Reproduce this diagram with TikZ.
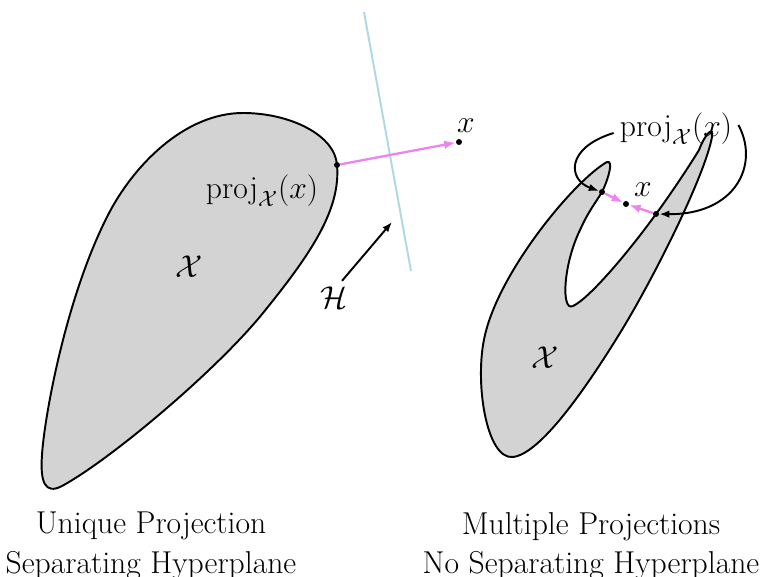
\documentclass[tikz,border=0pt]{standalone}
\usepackage{fix-cm}
\definecolor{ProjPink}{HTML}{EE82EE}
\definecolor{PlaneBlue}{HTML}{ADD8E6}
\definecolor{SetGray}{HTML}{D3D3D3}
\usetikzlibrary{arrows.meta}
\tikzset{
  region/.style={draw=black, line width=1.1pt, fill=SetGray},
  dot/.style={circle, fill=black, inner sep=0pt, minimum size=0.12cm},
  projarrow/.style={-{Latex[length=2.3mm]}, line width=1.3pt, draw=ProjPink},
  pointer/.style={-{Latex[length=2mm]}, line width=1.1pt, draw=black},
  hyperplane/.style={line width=1.1pt, draw=PlaneBlue},
  mathlabel/.style={inner sep=0pt, font=\fontsize{18}{24}\selectfont},
  caption/.style={inner sep=0pt, align=center, anchor=north, font=\fontsize{18}{22.5}\selectfont}
}

\begin{document}
\begin{tikzpicture}[x=0.02cm, y=-0.02cm]
\useasboundingbox (0,0) rectangle (761,577);

% left: convex set, unique projection
\draw[region] (337,165) .. controls (341,210) and (310,255) .. (263,313)
  .. controls (216,371) and (110,460) .. (62,486)
  .. controls (45,495) and (40,482) .. (42,455)
  .. controls (44,420) and (65,300) .. (107,217)
  .. controls (133,165) and (185,113) .. (243,113)
  .. controls (290,113) and (335,135) .. (337,165) -- cycle;
\coordinate (hTop) at (364,12);
\coordinate (hBot) at (411,271);
\draw[hyperplane] (hTop) -- (hBot);

\node[dot] (projL) at (337,165) {};
\node[dot] (ptL) at (459,142) {};
\draw[projarrow] (projL) -- (ptL);

\node[mathlabel] (lblXL) at (466,126) {$x$};
\node[mathlabel] (lblProjL) at (262,191) {$\mathrm{proj}_{\mathcal{X}}(x)$};
\node[mathlabel] (lblSetL) at (189,267) {$\mathcal{X}$};
\node[mathlabel] (lblH) at (334,298) {$\mathcal{H}$};
\coordinate (hTip) at (392,222);
\draw[pointer] ([shift={(8,-6)}]lblH.north) -- (hTip);

% right: nonconvex set, two projections
\draw[region] (607,162) .. controls (575,180) and (500,270) .. (485,335)
  .. controls (474,380) and (486,460) .. (513,457)
  .. controls (540,454) and (585,390) .. (620,333)
  .. controls (655,276) and (705,175) .. (712,137)
  .. controls (714,126) and (706,132) .. (699,150)
  .. controls (690,165) and (670,195) .. (656,214)
  .. controls (630,250) and (590,298) .. (573,306)
  .. controls (561,312) and (563,265) .. (580,230)
  .. controls (588,212) and (596,202) .. (602,192)
  .. controls (608,180) and (614,160) .. (607,162) -- cycle;

\node[dot] (projR1) at (602,192) {};
\node[dot] (projR2) at (656,214) {};
\node[dot] (ptR) at (626,204) {};
\draw[projarrow] (projR1) -- (ptR);
\draw[projarrow] (projR2) -- (ptR);

\node[mathlabel] (lblXR) at (643,190) {$x$};
\node[mathlabel] (lblProjR) at (676,129) {$\mathrm{proj}_{\mathcal{X}}(x)$};
\node[mathlabel] (lblSetR) at (545,358) {$\mathcal{X}$};
\draw[pointer] ([shift={(-6,4)}]lblProjR.west) .. controls (565,148) and (568,180) .. (projR1);
\draw[pointer] ([shift={(6,-4)}]lblProjR.east) .. controls (760,165) and (735,215) .. (projR2);

% captions
\node[caption] (capL) at (151,512) {Unique Projection\\Separating Hyperplane};
\node[caption] (capR) at (591,512) {Multiple Projections\\No Separating Hyperplane};
\end{tikzpicture}
\end{document}
